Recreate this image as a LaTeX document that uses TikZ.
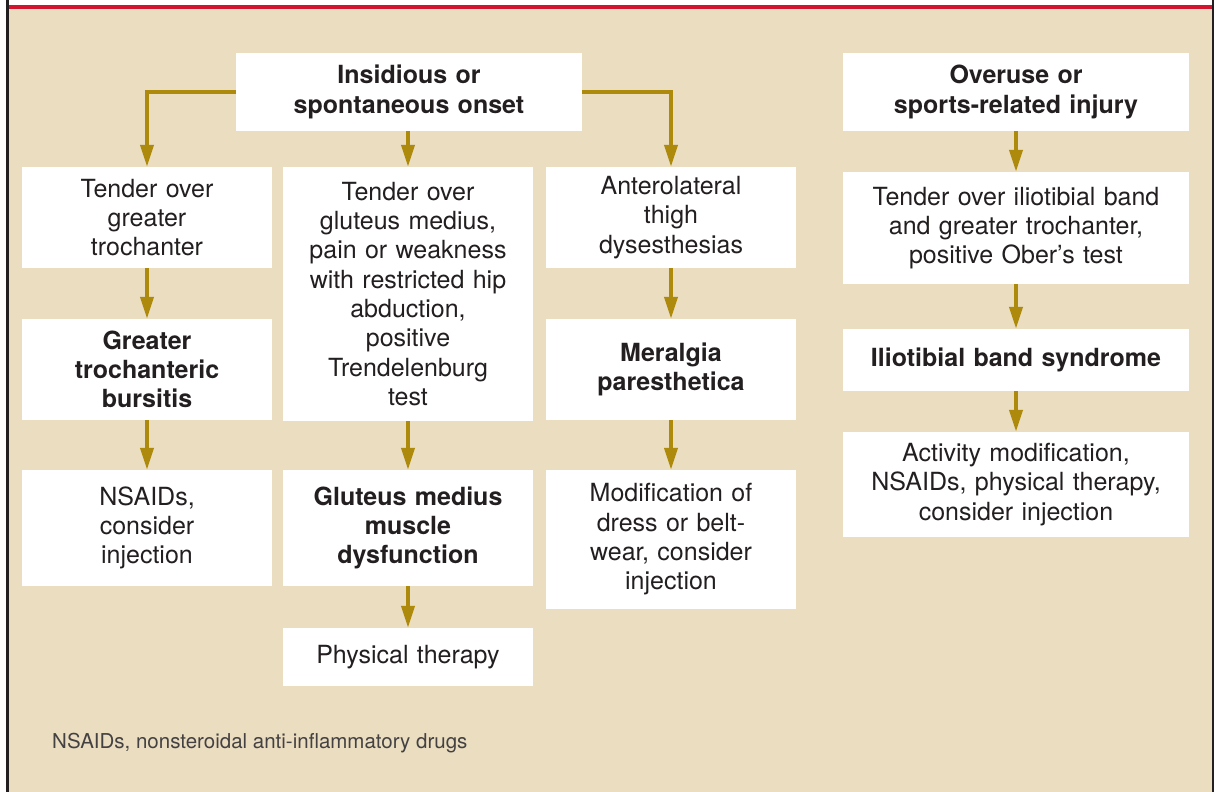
\documentclass[tikz,border=0pt]{standalone}
\usepackage{fontspec}
\setmainfont{TeX Gyre Heros}
\usepackage{tikz}
\usetikzlibrary{arrows.meta}

\definecolor{panel}{HTML}{EADDC0}
\definecolor{rule}{HTML}{D2142E}
\definecolor{frame}{HTML}{231F20}
\definecolor{flow}{HTML}{AD8A0B}
\definecolor{ink}{HTML}{231F20}

\tikzset{
  box/.style={shape=rectangle, draw=none, fill=white, inner sep=0pt, align=center,
              text=ink, font=\fontsize{25}{29.3}\selectfont},
  flowline/.style={draw=flow, line width=4pt, -{Triangle[width=13pt,length=22pt]}},
  plainline/.style={draw=flow, line width=4pt}
}

\newcommand{\flowbox}[6]{\node[box, minimum width=#4pt, minimum height=#5pt, text width=#4pt-16pt] (#1) at ( #2 , #3 ) {#6};}
\newcommand{\flowarrow}[2]{\draw[flowline] (#1.south) -- (#2.north);}

\begin{document}
\begin{tikzpicture}[x=1pt,y=-1pt]
        \useasboundingbox (0,0) rectangle (1218,792);
        \fill[white] (0,0) rectangle (1218,792);

        % panel
        \fill[panel] (8,9) rectangle (1212,792);
        \fill[rule] (7,5) rectangle (1212,9);
        \fill[frame] (6,0) rectangle (8.5,792);
        \fill[frame] (1211.5,0) rectangle (1214,792);

        % starting points
        \flowbox{onset}{409}{92}{346}{78}{\bfseries Insidious or\\ \bfseries spontaneous onset}
        \flowbox{overuse}{1016}{92}{346}{78}{\bfseries Overuse or\\ \bfseries sports-related injury}

        % row 1
        \flowbox{greater}{147}{217.5}{250}{101}{Tender over\\ greater\\ trochanter}
        \flowbox{gluteus}{408}{294}{250}{254}{Tender over\\ gluteus medius,\\ pain or weakness\\ with restricted hip\\ abduction,\\ positive\\ Trendelenburg\\ test}
        \flowbox{thigh}{671}{217.5}{250}{101}{Anterolateral\\ thigh\\ dysesthesias}
        \flowbox{band}{1016}{228}{346}{112}{Tender over iliotibial band\\ and greater trochanter,\\ positive Ober’s test}

        % row 2
        \flowbox{bursitis}{147}{369.5}{250}{101}{\bfseries Greater\\ \bfseries trochanteric\\ \bfseries bursitis}
        \flowbox{meralgia}{671}{369.5}{250}{101}{\bfseries Meralgia\\ \bfseries paresthetica}
        \flowbox{itbs}{1016}{360}{346}{62}{\bfseries Iliotibial band syndrome}

        % row 3
        \flowbox{nsaids}{147}{528}{250}{116}{NSAIDs,\\ consider\\ injection}
        \flowbox{medius}{408}{528}{250}{116}{\bfseries Gluteus medius\\ \bfseries muscle\\ \bfseries dysfunction}
        \flowbox{dress}{671}{539.5}{250}{139}{Modification of\\ dress or belt-\\ wear, consider\\ injection}
        \flowbox{activity}{1016}{484.5}{346}{105}{Activity modification,\\ NSAIDs, physical therapy,\\ consider injection}

        % row 4
        \flowbox{therapy}{408}{657}{250}{58}{Physical therapy}

        % arrows from onset
        \draw[flowline] (onset.west) -| (greater.north);
        \draw[flowline] (onset.south -| gluteus.north) -- (gluteus.north);
        \draw[flowline] (onset.east) -| (thigh.north);

        % arrows down the columns
        \flowarrow{greater}{bursitis}
        \flowarrow{bursitis}{nsaids}
        \flowarrow{gluteus}{medius}
        \flowarrow{medius}{therapy}
        \flowarrow{thigh}{meralgia}
        \flowarrow{meralgia}{dress}
        \flowarrow{overuse}{band}
        \flowarrow{band}{itbs}
        \flowarrow{itbs}{activity}

        % footnote
        \node[anchor=west, inner sep=0pt, text=ink!85, font=\fontsize{20.5}{24}\selectfont] (note) at (52,743) {NSAIDs, nonsteroidal anti-inflammatory drugs};

\end{tikzpicture}
\end{document}
